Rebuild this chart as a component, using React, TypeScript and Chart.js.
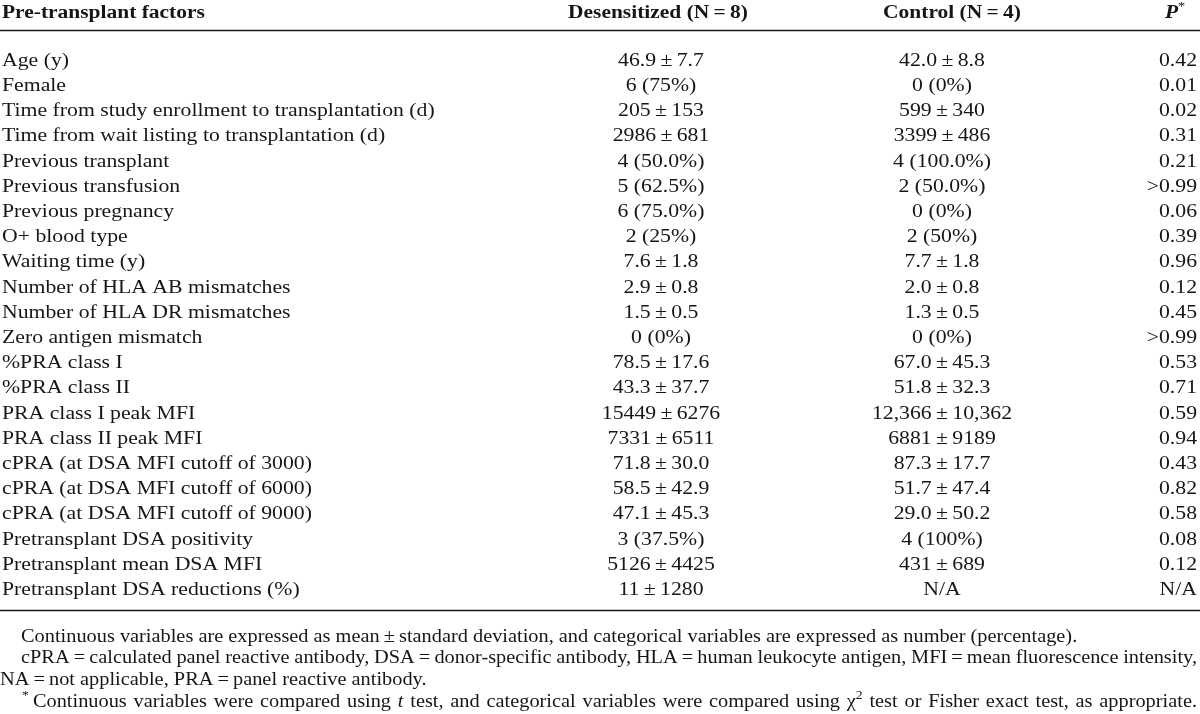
import React, { useEffect, useRef } from "react";
import { Chart, registerables } from "chart.js";

Chart.register(...registerables);

// ---------- data ----------
const columnHeaders = ["Pre-transplant factors", "Desensitized (N\u2009=\u20098)", "Control (N\u2009=\u20094)"];
const pHeader = "P";

const factors = [
  "Age (y)",
  "Female",
  "Time from study enrollment to transplantation (d)",
  "Time from wait listing to transplantation (d)",
  "Previous transplant",
  "Previous transfusion",
  "Previous pregnancy",
  "O+ blood type",
  "Waiting time (y)",
  "Number of HLA AB mismatches",
  "Number of HLA DR mismatches",
  "Zero antigen mismatch",
  "%PRA class I",
  "%PRA class II",
  "PRA class I peak MFI",
  "PRA class II peak MFI",
  "cPRA (at DSA MFI cutoff of 3000)",
  "cPRA (at DSA MFI cutoff of 6000)",
  "cPRA (at DSA MFI cutoff of 9000)",
  "Pretransplant DSA positivity",
  "Pretransplant mean DSA MFI",
  "Pretransplant DSA reductions (%)",
];

const desensitized = [
  "46.9\u2009±\u20097.7",
  "6 (75%)",
  "205\u2009±\u2009153",
  "2986\u2009±\u2009681",
  "4 (50.0%)",
  "5 (62.5%)",
  "6 (75.0%)",
  "2 (25%)",
  "7.6\u2009±\u20091.8",
  "2.9\u2009±\u20090.8",
  "1.5\u2009±\u20090.5",
  "0 (0%)",
  "78.5\u2009±\u200917.6",
  "43.3\u2009±\u200937.7",
  "15449\u2009±\u20096276",
  "7331\u2009±\u20096511",
  "71.8\u2009±\u200930.0",
  "58.5\u2009±\u200942.9",
  "47.1\u2009±\u200945.3",
  "3 (37.5%)",
  "5126\u2009±\u20094425",
  "11\u2009±\u20091280",
];

const control = [
  "42.0\u2009±\u20098.8",
  "0 (0%)",
  "599\u2009±\u2009340",
  "3399\u2009±\u2009486",
  "4 (100.0%)",
  "2 (50.0%)",
  "0 (0%)",
  "2 (50%)",
  "7.7\u2009±\u20091.8",
  "2.0\u2009±\u20090.8",
  "1.3\u2009±\u20090.5",
  "0 (0%)",
  "67.0\u2009±\u200945.3",
  "51.8\u2009±\u200932.3",
  "12,366\u2009±\u200910,362",
  "6881\u2009±\u20099189",
  "87.3\u2009±\u200917.7",
  "51.7\u2009±\u200947.4",
  "29.0\u2009±\u200950.2",
  "4 (100%)",
  "431\u2009±\u2009689",
  "N/A",
];

const pValues = [
  "0.42", "0.01", "0.02", "0.31", "0.21", ">0.99", "0.06", "0.39", "0.96", "0.12", "0.45",
  ">0.99", "0.53", "0.71", "0.59", "0.94", "0.43", "0.82", "0.58", "0.08", "0.12", "N/A",
];

type Seg = { t: string; s?: "i" | "sup" | "b" | "bi" };

const note1: Seg[] = [
  { t: "Continuous variables are expressed as mean\u2009±\u2009standard deviation, and categorical variables are expressed as number (percentage)." },
];
const note2: Seg[] = [
  { t: "cPRA\u2009=\u2009calculated panel reactive antibody, DSA\u2009=\u2009donor-specific antibody, HLA\u2009=\u2009human leukocyte antigen, MFI\u2009=\u2009mean fluorescence intensity," },
];
const note3: Seg[] = [{ t: "NA\u2009=\u2009not applicable, PRA\u2009=\u2009panel reactive antibody." }];
const note4: Seg[] = [
  { t: "*", s: "sup" },
  { t: "\u2009Continuous variables were compared using " },
  { t: "t", s: "i" },
  { t: " test, and categorical variables were compared using χ" },
  { t: "2", s: "sup" },
  { t: " test or Fisher exact test, as appropriate." },
];
const footnotes = [note1, note2, note3, note4];

// ---------- layout ----------
const W = 1200;
const H = 714;
const FF = '"Liberation Serif", "Times New Roman", "DejaVu Serif", serif';
const SIZE = 18.5;
const SUP = 12.5;
const SX_TABLE = 1.175;
const SX_HEAD = 1.16;
const NOTE_SIZE = 18;
const SX_NOTE = 1.13;
const ROW0_PX = 61;
const PITCH = 25.2;
const Y_MIN = -ROW0_PX / PITCH;
const Y_MAX = Y_MIN + H / PITCH;
const HEADER_ROW = (13 - ROW0_PX) / PITCH;
const RULE_TOP = (30 - ROW0_PX) / PITCH;
const RULE_BOTTOM = (610 - ROW0_PX) / PITCH;
const NOTE0 = (637 - ROW0_PX) / PITCH;
const NOTE_PITCH = 21.7 / PITCH;
const COL_FACTOR_X = 2;
const COL_DES_X = 661;
const COL_DES_HEAD_X = 658;
const COL_CON_X = 942;
const COL_CON_HEAD_X = 952;
const COL_P_X = 1197;
const COL_P_HEAD_X = 1165;
const NOTE_X = [21, 21, 0, 22];
const NOTE_JUSTIFY = [false, true, false, true];
const INK = "#161616";

function segFont(s: string | undefined, size: number) {
  const sup = size * (SUP / SIZE);
  if (s === "i") return `italic ${size}px ${FF}`;
  if (s === "sup") return `${sup}px ${FF}`;
  if (s === "b") return `bold ${size}px ${FF}`;
  if (s === "bi") return `bold italic ${size}px ${FF}`;
  return `${size}px ${FF}`;
}

function fillScaled(
  ctx: CanvasRenderingContext2D,
  text: string,
  x: number,
  y: number,
  align: CanvasTextAlign,
  sx: number
) {
  ctx.save();
  ctx.translate(x, y);
  ctx.scale(sx, 1);
  ctx.textAlign = align;
  ctx.fillText(text, 0, 0);
  ctx.restore();
}

function drawSegs(
  ctx: CanvasRenderingContext2D,
  segs: Seg[],
  x0: number,
  y: number,
  size: number,
  sx: number,
  justifyTo?: number
) {
  const tokens: Seg[] = [];
  segs.forEach((seg) => {
    seg.t.split(/( )/).forEach((p) => {
      if (p) tokens.push({ t: p, s: seg.s });
    });
  });
  const widths = tokens.map((tk) => {
    ctx.font = segFont(tk.s, size);
    return ctx.measureText(tk.t).width * sx;
  });
  const natural = widths.reduce((a, b) => a + b, 0);
  const nSpaces = tokens.filter((tk) => tk.t === " ").length;
  const extra = justifyTo !== undefined && nSpaces > 0 ? (justifyTo - x0 - natural) / nSpaces : 0;
  let x = x0;
  tokens.forEach((tk, i) => {
    ctx.font = segFont(tk.s, size);
    if (tk.t !== " ") fillScaled(ctx, tk.t, x, tk.s === "sup" ? y - size * 0.33 : y, "left", sx);
    x += widths[i] + (tk.t === " " ? extra : 0);
  });
}

const tablePlugin = {
  id: "tableDraw",
  beforeDraw(chart: any) {
    const ctx = chart.ctx as CanvasRenderingContext2D;
    ctx.save();
    ctx.fillStyle = "#ffffff";
    ctx.fillRect(0, 0, chart.width, chart.height);
    ctx.restore();
  },
  afterDraw(chart: any) {
    const ctx = chart.ctx as CanvasRenderingContext2D;
    const xs = chart.scales.x;
    const ys = chart.scales.y;
    const px = (v: number) => xs.getPixelForValue(v);
    const py = (v: number) => ys.getPixelForValue(v);
    ctx.save();
    ctx.fillStyle = INK;
    ctx.strokeStyle = INK;
    ctx.textBaseline = "middle";

    // header
    const hy = py(HEADER_ROW);
    ctx.font = `bold ${SIZE}px ${FF}`;
    fillScaled(ctx, columnHeaders[0], px(COL_FACTOR_X), hy, "left", SX_HEAD);
    fillScaled(ctx, columnHeaders[1], px(COL_DES_HEAD_X), hy, "center", SX_HEAD);
    fillScaled(ctx, columnHeaders[2], px(COL_CON_HEAD_X), hy, "center", SX_HEAD);
    drawSegs(ctx, [{ t: pHeader, s: "bi" }, { t: "*", s: "sup" }], px(COL_P_HEAD_X), hy, SIZE, SX_HEAD);

    // rules
    ctx.lineWidth = 1.6;
    [RULE_TOP, RULE_BOTTOM].forEach((r) => {
      const y = Math.round(py(r)) + 0.5;
      ctx.beginPath();
      ctx.moveTo(px(0), y);
      ctx.lineTo(px(W), y);
      ctx.stroke();
    });

    // rows
    ctx.font = `${SIZE}px ${FF}`;
    factors.forEach((f, i) => {
      const y = py(i);
      fillScaled(ctx, f, px(COL_FACTOR_X), y, "left", SX_TABLE);
      fillScaled(ctx, desensitized[i], px(COL_DES_X), y, "center", SX_TABLE);
      fillScaled(ctx, control[i], px(COL_CON_X), y, "center", SX_TABLE);
      fillScaled(ctx, pValues[i], px(COL_P_X), y, "right", SX_TABLE);
    });

    // footnotes
    footnotes.forEach((segs, k) => {
      const y = py(NOTE0 + k * NOTE_PITCH);
      drawSegs(ctx, segs, px(NOTE_X[k]), y, NOTE_SIZE, SX_NOTE, NOTE_JUSTIFY[k] ? px(COL_P_X) : undefined);
    });
    ctx.restore();
  },
};

export default function App() {
  const ref = useRef<HTMLCanvasElement>(null);
  useEffect(() => {
    if (!ref.current) return;
    const chart = new Chart(ref.current, {
      type: "scatter",
      data: { datasets: [{ data: [], pointRadius: 0 }] },
      options: {
        animation: false,
        responsive: false,
        events: [],
        layout: { padding: 0 },
        plugins: { legend: { display: false }, tooltip: { enabled: false } },
        scales: {
          x: { type: "linear", min: 0, max: W, display: false },
          y: { type: "linear", min: Y_MIN, max: Y_MAX, reverse: true, display: false },
        },
      },
      plugins: [tablePlugin],
    } as any);
    return () => chart.destroy();
  }, []);
  return (
    <div style={{ position: "absolute", left: 0, top: 0, width: W, height: H, background: "#fff" }}>
      <canvas ref={ref} width={W} height={H} style={{ display: "block", width: W, height: H }} />
    </div>
  );
}
